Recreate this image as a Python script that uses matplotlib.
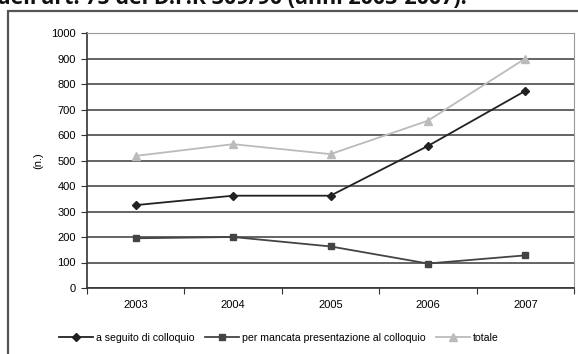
import matplotlib.pyplot as plt
from matplotlib.patches import Rectangle

years = ["2003", "2004", "2005", "2006", "2007"]
a_seguito = [325, 362, 362, 557, 773]
mancata = [195, 200, 163, 96, 128]
totale = [518, 564, 525, 656, 900]
yticks = list(range(0, 1001, 100))

plt.rcParams['font.family'] = ['Liberation Sans', 'DejaVu Sans']

fig = plt.figure(figsize=(5.78, 3.54), dpi=100)

# title line, cut at the top
fig.text(-0.005, 0.99, "dell'art. 75 del D.P.R 309/90 (anni 2003-2007).",
         fontsize=15.5, fontweight='bold', family='Open Sans', va='baseline',
         ha='left', color='#111111')

# outer chart frame
fig.patches.append(Rectangle((8 / 578, -0.1), 1.0, 1 - 11 / 354 + 0.1,
                             transform=fig.transFigure, fill=False,
                             edgecolor='#555555', linewidth=1.6))

ax = fig.add_axes([87 / 578, 1 - 288 / 354, (574 - 87) / 578, (288 - 33) / 354])
x = range(len(years))
ax.plot(x, a_seguito, color='#222222', marker='D', markersize=4.5, linewidth=1.3,
        label='a seguito di colloquio')
ax.plot(x, mancata, color='#444444', marker='s', markersize=5, linewidth=1.3,
        label='per mancata presentazione al colloquio')
ax.plot(x, totale, color='#bbbbbb', marker='^', markersize=5.5, linewidth=1.3,
        label='totale')

ax.set_xlim(-0.5, len(years) - 0.5)
ax.set_ylim(0, 1000)
ax.set_yticks(yticks)
ax.set_yticklabels([str(v) for v in yticks], fontsize=8)
ax.yaxis.grid(True, color='#3a3a3a', linewidth=1.1)
ax.set_axisbelow(True)

ax.set_xticks([i - 0.5 for i in range(len(years) + 1)])
ax.set_xticklabels([])
ax.set_xticks(list(x), minor=True)
ax.set_xticklabels(years, minor=True, fontsize=8)
ax.tick_params(axis='x', which='minor', length=0, pad=9)
ax.tick_params(axis='x', which='major', length=4, color='#333333')
ax.tick_params(axis='y', length=4, color='#333333', pad=4)

for side in ['top', 'right']:
    ax.spines[side].set_color('#999999')
ax.spines['left'].set_color('#333333')
ax.spines['bottom'].set_color('#333333')
ax.spines['left'].set_linewidth(1.2)
ax.spines['bottom'].set_linewidth(1.2)

ax.set_ylabel('(n.)', fontsize=8, labelpad=6)

fig.legend(loc='center', bbox_to_anchor=(0.483, 1 - 338 / 354), ncol=3,
           frameon=False, fontsize=7.6, handlelength=3.2, columnspacing=1.0,
           handletextpad=0.3)

fig.savefig('out.png', dpi=100)
